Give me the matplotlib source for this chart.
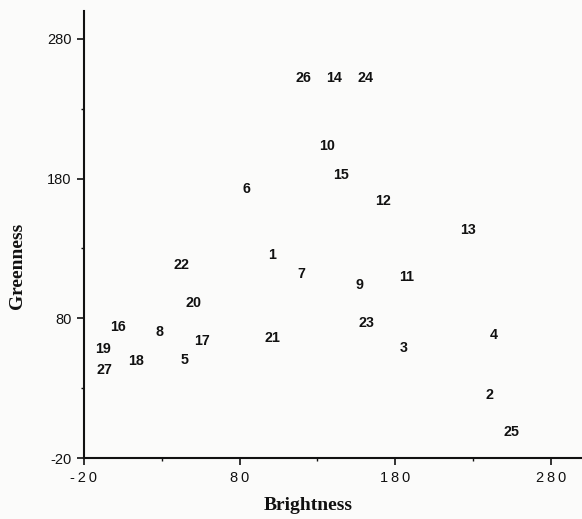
import matplotlib
matplotlib.use("Agg")
import matplotlib.pyplot as plt

# Site numbers with their brightness / greenness values
site_ids = [1, 2, 3, 4, 5, 6, 7, 8, 9, 10, 11, 12, 13, 14,
            15, 16, 17, 18, 19, 20, 21, 22, 23, 24, 25, 26, 27]
brightness = [100.6, 240.4, 185.2, 243.0, 44.9, 84.5, 119.9, 28.4, 156.7, 135.9,
              187.4, 171.9, 226.9, 140.8, 144.9, 2.0, 56.0, 13.2, -7.6, 50.2,
              101.2, 42.8, 161.6, 161.2, 254.8, 120.9, -7.0]
greenness = [126.7, 26.3, 59.7, 69.3, 51.4, 173.5, 112.6, 71.6, 105.0, 204.1,
             110.3, 165.2, 144.1, 253.0, 183.8, 75.2, 65.0, 50.2, 59.2, 91.9,
             66.8, 119.4, 77.6, 253.0, 0.0, 253.0, 44.2]

x_major = [-20, 80, 180, 280]
x_major_labels = ["-20", "80", "180", "280"]
x_minor = [30, 130, 230]
y_major = [-20, 80, 180, 280]
y_major_labels = ["-20", "80", "180", "280"]
y_minor = [30, 130, 230]

ink = "#111111"
fig = plt.figure(figsize=(5.82, 5.19), dpi=100)
fig.patch.set_facecolor("#fbfbfa")
ax = fig.add_axes([0.1443, 0.1175, 0.8557, 0.8613])
ax.set_facecolor("#fbfbfa")

for sid, bx, gy in zip(site_ids, brightness, greenness):
    ax.text(bx, gy, str(sid), ha="center", va="center_baseline",
            fontsize=10.3, fontweight="bold", family="Liberation Sans", color=ink)

ax.set_xlim(-20, 300)
ax.set_ylim(-20, 300)

for side in ("top", "right"):
    ax.spines[side].set_visible(False)
for side in ("left", "bottom"):
    ax.spines[side].set_linewidth(1.5)
    ax.spines[side].set_color(ink)

spaced = lambda s: "\u2009".join(s)
ax.set_xticks(x_major)
ax.set_xticklabels([spaced(t) for t in x_major_labels])
ax.set_xticks(x_minor, minor=True)
ax.set_yticks(y_major)
ax.set_yticklabels(y_major_labels)
ax.set_yticks(y_minor, minor=True)

ax.tick_params(which="major", direction="out", length=5, width=1.2, color=ink,
               labelcolor=ink, labelsize=10.5, pad=4)
ax.tick_params(which="minor", direction="out", length=2.5, width=1.0, color=ink)
for lab in ax.get_xticklabels() + ax.get_yticklabels():
    lab.set_family("Liberation Sans")

ax.set_xlabel("Brightness", family="Liberation Serif", fontweight="bold",
              fontsize=14, color=ink)
ax.xaxis.set_label_coords(0.45, -0.088)
ax.set_ylabel("Greenness", family="Liberation Serif", fontweight="bold",
              fontsize=14, color=ink)
ax.yaxis.set_label_coords(-0.117, 0.43)

fig.savefig("out.png", dpi=100, facecolor=fig.get_facecolor())
